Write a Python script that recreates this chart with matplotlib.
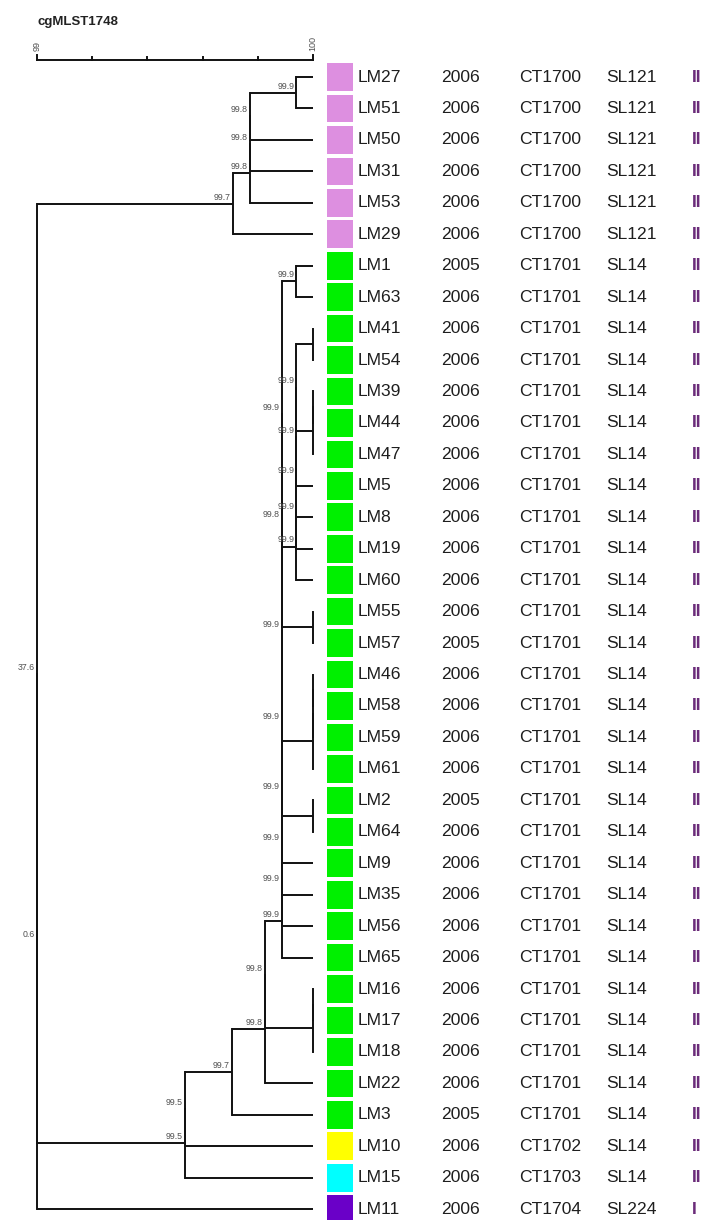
import matplotlib
matplotlib.use("Agg")
import matplotlib.pyplot as plt

plt.rcParams['font.family'] = ['Liberation Sans', 'DejaVu Sans']

# isolates, top to bottom
names = ['LM27', 'LM51', 'LM50', 'LM31', 'LM53', 'LM29',
         'LM1', 'LM63', 'LM41', 'LM54', 'LM39', 'LM44', 'LM47', 'LM5', 'LM8',
         'LM19', 'LM60', 'LM55', 'LM57', 'LM46', 'LM58', 'LM59', 'LM61', 'LM2',
         'LM64', 'LM9', 'LM35', 'LM56', 'LM65', 'LM16', 'LM17', 'LM18', 'LM22',
         'LM3', 'LM10', 'LM15', 'LM11']
years = ['2006'] * 6 + ['2005', '2006', '2006', '2006', '2006', '2006', '2006',
         '2006', '2006', '2006', '2006', '2006', '2005', '2006', '2006', '2006',
         '2006', '2005', '2006', '2006', '2006', '2006', '2006', '2006', '2006',
         '2006', '2006', '2005'] + ['2006', '2006', '2006']
cts = ['CT1700'] * 6 + ['CT1701'] * 28 + ['CT1702', 'CT1703', 'CT1704']
sls = ['SL121'] * 6 + ['SL14'] * 28 + ['SL14', 'SL14', 'SL224']
lineages = ['II'] * 36 + ['I']
box_colors = ['#dd8fe0'] * 6 + ['#00f000'] * 28 + ['#ffff00', '#00ffff', '#6a00c8']

# merges: (child a, child b, similarity %, label); 'n#' refers to the #th merge
merges = [
    ('LM27', 'LM51', 99.94, '99.9'),   # n0
    ('n0', 'LM50', 99.77, '99.8'),
    ('n1', 'LM31', 99.77, '99.8'),
    ('n2', 'LM53', 99.77, '99.8'),
    ('n3', 'LM29', 99.71, '99.7'),
    ('LM1', 'LM63', 99.94, '99.9'),    # n5
    ('LM41', 'LM54', 100.0, ''),
    ('LM39', 'LM44', 100.0, ''),
    ('n7', 'LM47', 100.0, ''),
    ('n6', 'n8', 99.94, '99.9'),
    ('n9', 'LM5', 99.94, '99.9'),      # n10
    ('n10', 'LM8', 99.94, '99.9'),
    ('n11', 'LM19', 99.94, '99.9'),
    ('n12', 'LM60', 99.94, '99.9'),
    ('n5', 'n13', 99.888, '99.9'),
    ('LM55', 'LM57', 100.0, ''),       # n15
    ('n14', 'n15', 99.888, '99.8'),
    ('LM46', 'LM58', 100.0, ''),
    ('n17', 'LM59', 100.0, ''),
    ('n18', 'LM61', 100.0, ''),
    ('n16', 'n19', 99.888, '99.9'),    # n20
    ('LM2', 'LM64', 100.0, ''),
    ('n20', 'n21', 99.888, '99.9'),
    ('n22', 'LM9', 99.888, '99.9'),
    ('n23', 'LM35', 99.888, '99.9'),
    ('n24', 'LM56', 99.888, '99.9'),   # n25
    ('n25', 'LM65', 99.888, '99.9'),
    ('LM16', 'LM17', 100.0, ''),
    ('n27', 'LM18', 100.0, ''),
    ('n26', 'n28', 99.826, '99.8'),
    ('n29', 'LM22', 99.826, '99.8'),   # n30
    ('n30', 'LM3', 99.707, '99.7'),
    ('n31', 'LM10', 99.536, '99.5'),
    ('n32', 'LM15', 99.536, '99.5'),
    ('n4', 'n33', 37.6, '37.6'),
    ('n34', 'LM11', 0.6, '0.6'),
]

scale_ticks = [99.0, 99.2, 99.4, 99.6, 99.8, 100.0]
scale_min, scale_max = 99.0, 100.0

# layout
W, H = 706, 1220
row0, row_h = 77, 31.45
ytop = -row0 / row_h
ybot = (H - row0) / row_h

fig = plt.figure(figsize=(W / 100, H / 100), dpi=100)
ax = fig.add_axes([37 / W, 0, 276 / W, 1])
ax.set_xlim(scale_min, scale_max)
ax.set_ylim(ybot, ytop)
ax.axis('off')

pos = {n: (scale_max, i) for i, n in enumerate(names)}
lc = '#111111'
lw = 1.4
for k, (a, b, sim, lab) in enumerate(merges):
    x = max(sim, scale_min)
    xa, ya = pos[a]
    xb, yb = pos[b]
    y = (ya + yb) / 2
    ax.plot([x, x], [ya, yb], color=lc, lw=lw, solid_capstyle='projecting', clip_on=False)
    ax.plot([x, xa], [ya, ya], color=lc, lw=lw, solid_capstyle='butt', clip_on=False)
    ax.plot([x, xb], [yb, yb], color=lc, lw=lw, solid_capstyle='butt', clip_on=False)
    pos['n%d' % k] = (x, y)
    if lab:
        ax.annotate(lab, (x, y), xytext=(-1.5, 1.5), textcoords='offset points',
                    ha='right', va='bottom', fontsize=6.3, color='#505050',
                    annotation_clip=False)

# similarity scale
ys = -0.54
ax.plot([scale_min, scale_max], [ys, ys], color=lc, lw=lw, clip_on=False)
for t in scale_ticks:
    tl = 0.17 if t in (scale_min, scale_max) else 0.09
    ax.plot([t, t], [ys, ys - tl], color=lc, lw=lw, clip_on=False)
for t in (scale_min, scale_max):
    ax.text(t, ys - 0.3, '%g' % t, rotation=90, ha='center', va='bottom',
            fontsize=6.5, color='#505050', clip_on=False)

fig.text(37 / W, 1 - 22 / H, 'cgMLST1748', fontsize=9.5, fontweight='bold',
         color='#222222', va='center', ha='left')

# info columns
tab = fig.add_axes([320 / W, 0, (W - 320) / W, 1])
tab.set_xlim(0, W - 320)
tab.set_ylim(ybot, ytop)
tab.axis('off')
rows = list(range(len(names)))
tab.barh(rows, 26, left=7, height=0.88, color=box_colors)
cols = [(38, names, '#1e1e1e', 'normal'), (121, years, '#1e1e1e', 'normal'),
        (199, cts, '#1e1e1e', 'normal'), (286, sls, '#1e1e1e', 'normal'),
        (372, lineages, '#6b2c7a', 'bold')]
for cx, vals, col, fw in cols:
    for i, v in enumerate(vals):
        tab.text(cx, i, v, fontsize=12.6, color=col, fontweight=fw,
                 ha='left', va='center')

fig.savefig('out.png', dpi=100)
